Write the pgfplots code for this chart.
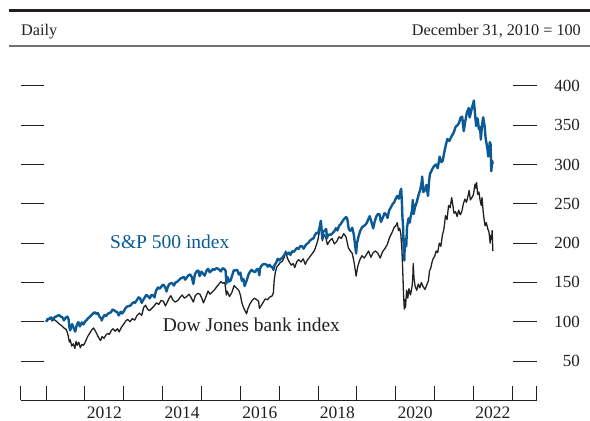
\documentclass[border=0pt]{standalone}
\usepackage{fontspec}
\setmainfont{Liberation Serif}
\usepackage{pgfplots}
\usepackage{pgfplotstable}
\pgfplotsset{compat=1.18}

\definecolor{spblue}{RGB}{11,90,150}
\definecolor{ink}{RGB}{35,31,32}

% Dow Jones bank index, Dec 31 2010 = 100
\pgfplotstableread{
year val
2011.00 100
2011.03 104
2011.07 103
2011.10 105
2011.15 101
2011.20 103
2011.28 100
2011.34 97
2011.40 95
2011.46 92
2011.52 90
2011.56 84
2011.60 74
2011.62 77
2011.66 69
2011.70 72
2011.74 66
2011.77 75
2011.80 70
2011.84 74
2011.88 67
2011.92 71
2011.96 70
2012.00 73
2012.04 78
2012.08 82
2012.13 86
2012.18 90
2012.22 92
2012.26 89
2012.30 85
2012.35 80
2012.40 76
2012.44 81
2012.49 79
2012.54 83
2012.58 85
2012.63 84
2012.68 89
2012.72 91
2012.78 88
2012.84 91
2012.88 87
2012.94 93
2013.00 97
2013.05 101
2013.10 103
2013.16 100
2013.22 104
2013.28 102
2013.34 108
2013.40 111
2013.46 108
2013.51 118
2013.56 121
2013.61 116
2013.66 114
2013.72 117
2013.78 120
2013.84 124
2013.90 122
2013.96 127
2014.02 126
2014.07 120
2014.12 125
2014.18 131
2014.21 133
2014.26 128
2014.32 125
2014.39 127
2014.45 131
2014.50 134
2014.56 130
2014.62 132
2014.68 135
2014.73 131
2014.79 125
2014.84 133
2014.90 136
2014.96 135
2015.00 131
2015.05 124
2015.10 130
2015.17 139
2015.22 135
2015.28 138
2015.34 141
2015.40 145
2015.45 148
2015.50 151
2015.55 149
2015.60 150
2015.64 134
2015.66 139
2015.72 132
2015.78 137
2015.84 146
2015.90 143
2015.96 140
2016.00 134
2016.04 124
2016.08 118
2016.12 114
2016.16 110
2016.19 116
2016.24 122
2016.30 127
2016.36 130
2016.42 128
2016.47 126
2016.49 117
2016.53 120
2016.58 124
2016.64 129
2016.70 128
2016.75 131
2016.82 133
2016.85 137
2016.87 152
2016.90 163
2016.94 170
2016.98 172
2017.02 175
2017.08 177
2017.13 182
2017.17 190
2017.21 181
2017.26 176
2017.31 172
2017.36 174
2017.40 169
2017.45 176
2017.50 179
2017.56 176
2017.62 180
2017.67 173
2017.72 178
2017.78 182
2017.84 186
2017.90 190
2017.96 198
2018.00 205
2018.04 216
2018.07 226
2018.11 203
2018.15 211
2018.20 207
2018.24 198
2018.30 203
2018.36 206
2018.42 199
2018.48 202
2018.54 208
2018.60 206
2018.66 212
2018.72 208
2018.78 194
2018.83 190
2018.88 187
2018.93 175
2018.98 158
2019.02 170
2019.07 178
2019.13 184
2019.19 181
2019.24 185
2019.30 190
2019.36 182
2019.42 188
2019.48 190
2019.54 187
2019.60 181
2019.66 189
2019.72 193
2019.78 198
2019.84 207
2019.90 213
2019.96 220
2020.00 222
2020.04 226
2020.07 216
2020.10 219
2020.13 212
2020.16 190
2020.18 165
2020.20 135
2020.22 116
2020.235 128
2020.25 118
2020.28 140
2020.31 130
2020.34 142
2020.38 134
2020.42 145
2020.44 158
2020.45 174
2020.47 155
2020.50 145
2020.54 140
2020.58 148
2020.62 143
2020.66 150
2020.70 145
2020.75 141
2020.80 147
2020.84 152
2020.87 165
2020.90 168
2020.93 175
2020.96 180
2021.00 183
2021.04 190
2021.08 188
2021.12 200
2021.16 196
2021.20 210
2021.24 218
2021.28 235
2021.32 230
2021.36 248
2021.40 245
2021.44 258
2021.47 248
2021.50 238
2021.54 240
2021.58 234
2021.62 242
2021.66 236
2021.70 240
2021.74 250
2021.78 256
2021.82 252
2021.86 260
2021.89 267
2021.92 255
2021.96 258
2022.00 262
2022.04 275
2022.06 270
2022.08 277
2022.11 262
2022.14 265
2022.17 255
2022.20 248
2022.22 258
2022.25 240
2022.28 228
2022.30 222
2022.33 226
2022.37 218
2022.40 214
2022.43 200
2022.45 210
2022.47 205
2022.48 216
2022.50 190
}\bankdata

% S&P 500 index, Dec 31 2010 = 100
\pgfplotstableread{
year val
2011.00 100
2011.04 102.5
2011.08 104
2011.13 105.5
2011.17 102
2011.21 105.4
2011.29 107.5
2011.33 108.5
2011.38 106.5
2011.42 105.5
2011.46 101.6
2011.50 105
2011.55 106.5
2011.58 102.7
2011.60 93
2011.62 89
2011.65 94
2011.67 96.9
2011.71 92
2011.75 87.4
2011.79 96
2011.83 99.6
2011.87 94
2011.92 99.1
2011.96 96.5
2012.00 100
2012.04 102
2012.08 104.3
2012.13 106.5
2012.17 108.6
2012.21 110.5
2012.25 112
2012.29 110
2012.33 111.2
2012.38 106
2012.42 104.2
2012.43 101.6
2012.46 105
2012.50 108.3
2012.54 107
2012.58 109.7
2012.63 111.3
2012.67 111.9
2012.71 115.5
2012.75 114.6
2012.79 113
2012.83 112.3
2012.87 108
2012.92 112.6
2012.96 110.5
2013.00 113.4
2013.04 117
2013.08 119.1
2013.13 120
2013.17 120.5
2013.21 123
2013.25 124.8
2013.29 124
2013.33 127.1
2013.38 131
2013.42 129.7
2013.46 124
2013.50 127.7
2013.54 131
2013.58 134.1
2013.63 132
2013.67 129.8
2013.71 134
2013.75 133.7
2013.79 131
2013.83 139.7
2013.88 143.6
2013.92 142
2013.96 144
2014.00 147
2014.04 146
2014.08 141.8
2014.10 138.5
2014.13 144
2014.17 147.8
2014.21 149
2014.25 148.8
2014.29 146
2014.33 149.8
2014.38 151
2014.42 153
2014.46 155
2014.50 155.8
2014.54 157
2014.58 153.5
2014.63 157
2014.67 159.3
2014.71 160
2014.75 156.9
2014.79 148.1
2014.83 160.4
2014.88 164.4
2014.92 165
2014.95 158
2015.00 163.7
2015.04 161
2015.08 158.6
2015.13 165
2015.17 167.4
2015.21 163
2015.25 164.4
2015.29 167
2015.33 165.9
2015.38 168
2015.42 167.6
2015.46 166
2015.50 164
2015.54 168
2015.58 167.3
2015.62 165
2015.64 148.5
2015.67 156.8
2015.71 151
2015.75 152.7
2015.79 159
2015.83 165.3
2015.88 165.4
2015.92 166
2015.96 160
2016.00 162.5
2016.04 152
2016.08 154.2
2016.11 145.4
2016.17 153.6
2016.21 160
2016.25 163.8
2016.29 166
2016.33 164.2
2016.38 163
2016.42 166.7
2016.46 167
2016.49 159.1
2016.50 166.9
2016.54 171
2016.58 172.9
2016.63 173.5
2016.67 172.6
2016.71 170
2016.75 172.4
2016.79 170
2016.83 169
2016.85 166
2016.88 172
2016.92 174.8
2016.96 180
2017.00 178
2017.04 180
2017.08 181.2
2017.13 185
2017.17 188
2017.21 186
2017.25 187.9
2017.29 185
2017.33 189.6
2017.38 189
2017.42 191.8
2017.46 194
2017.50 192.7
2017.54 196
2017.58 196.4
2017.63 193
2017.67 196.6
2017.71 199
2017.75 200.3
2017.79 203
2017.83 204.8
2017.88 206
2017.92 210.5
2017.96 213
2018.00 212.6
2018.04 220
2018.07 228.4
2018.08 224.5
2018.11 205.2
2018.13 214
2018.17 215.8
2018.21 218
2018.23 206
2018.25 210
2018.29 211
2018.33 210.5
2018.38 213
2018.42 215.1
2018.46 219
2018.50 216.1
2018.54 222
2018.58 223.9
2018.63 228
2018.67 230.7
2018.72 233.1
2018.75 231.7
2018.79 218
2018.83 215.6
2018.88 219.5
2018.92 211
2018.98 186.9
2019.00 199.3
2019.04 208
2019.08 215
2019.13 220
2019.17 221.4
2019.21 223
2019.25 225.3
2019.29 230
2019.33 234.3
2019.38 226
2019.42 218.8
2019.46 228
2019.50 233.9
2019.54 237
2019.58 237.0
2019.62 227
2019.67 232.7
2019.71 238
2019.75 236.7
2019.79 232
2019.83 241.6
2019.88 246
2019.92 249.7
2019.96 252
2020.00 256.9
2020.04 260
2020.08 256.5
2020.12 266
2020.14 269.2
2020.16 250
2020.17 234.9
2020.19 220
2020.20 198
2020.22 177.9
2020.23 195
2020.25 205.5
2020.27 196
2020.29 220
2020.33 231.5
2020.36 226
2020.38 233
2020.42 242
2020.44 255
2020.46 237
2020.50 246.5
2020.54 252
2020.58 260.1
2020.63 268
2020.67 278.3
2020.68 284.7
2020.71 265
2020.75 267.4
2020.79 274
2020.83 260
2020.86 280
2020.88 288
2020.92 292
2020.96 296
2021.00 298.7
2021.04 300
2021.08 295.3
2021.13 310
2021.17 303
2021.21 305
2021.25 315.9
2021.29 325
2021.33 332.5
2021.38 330
2021.42 334.3
2021.46 338
2021.50 341.8
2021.54 348
2021.58 349.5
2021.63 353
2021.67 359.6
2021.71 361
2021.75 342.5
2021.79 355
2021.83 366.2
2021.88 372
2021.90 360
2021.92 363.1
2021.96 372
2022.00 379
2022.01 381.4
2022.04 365
2022.07 349
2022.08 359.1
2022.11 358
2022.14 345
2022.17 347.8
2022.19 331.7
2022.22 350
2022.25 360.2
2022.29 348
2022.31 335
2022.33 328.5
2022.36 320
2022.38 310.2
2022.40 316
2022.42 328.5
2022.44 326
2022.46 291.6
2022.48 305
2022.50 301
}\spdata

\begin{document}
\begin{tikzpicture}[x=1pt,y=1pt]
% header rules and texts
\draw[ink, line width=2.6pt] (9,-10.5) -- (590,-10.5);
\node[anchor=base west, inner sep=0pt, text=ink, font=\fontsize{16.2}{19}\selectfont] at (21,-35.7) {Daily};
\node[anchor=base east, inner sep=0pt, text=ink, font=\fontsize{16.2}{19}\selectfont] at (581,-35.7) {December 31, 2010 = 100};
\draw[black!55, line width=1.3pt] (9,-46) -- (590,-46);

% y ticks (dashes on both sides, labels on the right)
\begin{axis}[
    at={(20.7pt,-400.3pt)}, anchor=south west,
    scale only axis, width=516pt, height=345.8pt,
    xmin=2010.346, xmax=2023.628, ymin=0, ymax=440,
    xtick=\empty,
    ytick={50,100,...,400},
    ytick pos=both, yticklabel pos=right,
    major tick length=23.5pt, tick align=inside,
    axis line style={draw=none},
    tick style={ink, line width=1pt},
    yticklabel style={anchor=east, inner sep=0pt, xshift=43.3pt, text=ink,
        font=\fontsize{17}{20}\selectfont},
    /pgf/number format/assume math mode=true,
]
\end{axis}

% data and x axis
\begin{axis}[
    at={(20.7pt,-400.3pt)}, anchor=south west,
    scale only axis, width=516pt, height=345.8pt,
    xmin=2010.346, xmax=2023.628, ymin=0, ymax=440,
    axis x line*=bottom, axis y line=none,
    x axis line style={ink, line width=1.3pt},
    ytick=\empty,
    xtick={2010.346,2011,2012,2013,2014,2015,2016,2017,2018,2019,2020,2021,2022,2023,2023.628},
    xticklabels={,,2012,,2014,,2016,,2018,,2020,,2022,,},
    major tick length=14pt, tick align=inside,
    tick style={ink, line width=1pt},
    xticklabel style={anchor=base, inner sep=0pt, xshift=19.4pt, yshift=-18.3pt,
        text=ink, font=\fontsize{17.5}{20}\selectfont},
]
\addplot[ink, line width=1.3pt, line join=round] table[x=year, y=val] {\bankdata};
\addplot[spblue, line width=2.4pt, line join=round] table[x=year, y=val] {\spdata};
\end{axis}

\node[anchor=base west, inner sep=0pt, text=spblue, font=\fontsize{19.5}{22}\selectfont] at (110,-248) {S\&P 500 index};
\node[anchor=base west, inner sep=0pt, text=ink, font=\fontsize{19.5}{22}\selectfont] at (162.7,-331.7) {Dow Jones bank index};

\pgfresetboundingbox
\path[use as bounding box] (0,0) rectangle (590,-421);
\end{tikzpicture}
\end{document}
